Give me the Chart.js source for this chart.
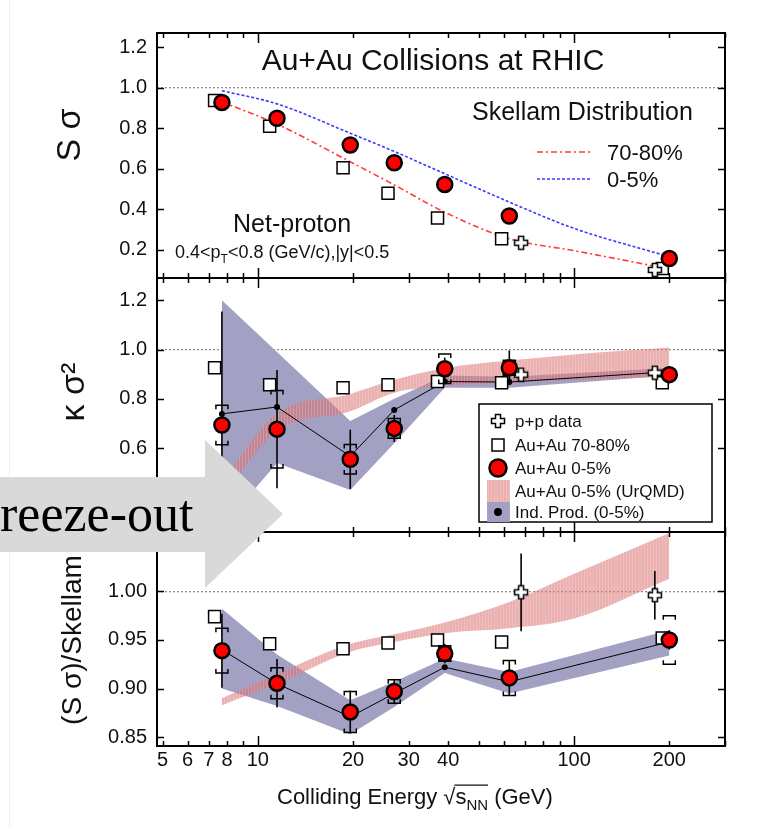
<!DOCTYPE html>
<html>
<head>
<meta charset="utf-8">
<script src="https://cdn.jsdelivr.net/npm/chart.js@4/dist/chart.umd.min.js"></script>
<style>
  body { margin: 0; background: #fff; width: 782px; height: 828px; overflow: hidden; position: relative; }
  canvas { position: absolute; left: 0; }
  #edge { position: absolute; left: 9px; top: 0; width: 1px; height: 828px; background: #f1f1f1; }
  #arrow {
    position: absolute; left: 0; top: 440px; width: 283px; height: 148px; background: #d9d9d9;
    clip-path: polygon(0 37px, 205px 37px, 205px 0, 283px 74px, 205px 148px, 205px 112px, 0 112px);
  }
  #arrow span {
    position: absolute; left: 0; top: 48px; font: 52px "Liberation Serif", "Times New Roman", serif;
    line-height: 52px; color: #000; white-space: nowrap;
  }
</style>
</head>
<body>
<div id="edge"></div>
<canvas id="pSkew" width="782" height="292" style="top:0"></canvas>
<canvas id="pKurt" width="782" height="282" style="top:264px"></canvas>
<canvas id="pRatio" width="782" height="310" style="top:518px"></canvas>
<div id="arrow"><span>reeze-out</span></div>

<script>
const family = '"Liberation Sans", Arial, sans-serif';
Chart.defaults.font.family = family;
Chart.defaults.color = '#111';

// beam energies (GeV); 70-80% and p+p points are shifted slightly in x for visibility
const energies = [7.7, 11.5, 19.6, 27, 39, 62.4, 200];
const energiesPeriph = [7.3, 10.9, 18.6, 25.8, 37, 59, 190];
const energiesPP = [68, 180];
const modelEnergies = [7.7, 11.5, 19.6, 27, 39, 62.4, 100, 200];

// x axis ticks
const xLabelTicks = [5, 6, 7, 8, 10, 20, 30, 40, 100, 200];
const xMarkTicks = [5, 6, 7, 8, 9, 10, 20, 30, 40, 50, 60, 70, 80, 90, 100, 200, 300];
const xDecades = [10, 100];

// top panel: S sigma
const sTicks = [0.2, 0.4, 0.6, 0.8, 1.0, 1.2];
const sCentral = [0.927, 0.849, 0.717, 0.629, 0.522, 0.366, 0.156];
const sPeriph = [0.937, 0.81, 0.605, 0.478, 0.356, 0.254, 0.107];
const sPP = [0.234, 0.10];
const skellamCentral = [0.985, 0.92, 0.775, 0.685, 0.575, 0.435, 0.305, 0.165];
const skellamPeriph = [0.93, 0.82, 0.634, 0.52, 0.385, 0.254, 0.195, 0.105];

// middle panel: kappa sigma^2
const kTicks = [0.6, 0.8, 1.0, 1.2];
const kCentral = [0.694, 0.677, 0.555, 0.68, 0.922, 0.926, 0.898];
const kCentralStat = [0.46, 0.24, 0.12, 0.055, 0.045, 0.07, 0.02];
const kCentralSys = [0.08, 0.157, 0.06, 0.04, 0.06, 0.03, 0.02];
const kPeriph = [0.926, 0.857, 0.845, 0.857, 0.87, 0.865, 0.865];
const kPP = [0.898, 0.906];
const kPPStat = [0.02, 0.02];
const kIndProd = [0.739, 0.767, 0.567, 0.755, 0.87, 0.868, 0.91];
const kIndLow = [0.28, 0.54, 0.43, 0.62, 0.845, 0.845, 0.895];
const kIndHigh = [1.2, 0.99, 0.71, 0.80, 0.895, 0.89, 0.925];
const kUrqmdLow = [0.40, 0.67, 0.75, 0.825, 0.852, 0.865, 0.876, 0.89];
const kUrqmdHigh = [0.47, 0.74, 0.82, 0.877, 0.925, 0.955, 0.98, 1.008];

// bottom panel: (S sigma)/Skellam
const rTicks = [0.85, 0.90, 0.95, 1.00];
const rCentral = [0.939, 0.9055, 0.876, 0.897, 0.936, 0.911, 0.95];
const rCentralStat = [0.038, 0.025, 0.022, 0.013, 0.01, 0.018, 0.01];
const rCentralSys = [0.023, 0.016, 0.021, 0.012, 0.008, 0.018, 0.025];
const rPeriph = [0.974, 0.946, 0.941, 0.947, 0.95, 0.948, 0.952];
const rPP = [0.999, 0.996];
const rPPStat = [0.04, 0.025];
const rIndProd = [0.94, 0.905, 0.871, 0.895, 0.922, 0.907, 0.948];
const rIndLow = [0.90, 0.882, 0.853, 0.881, 0.916, 0.895, 0.934];
const rIndHigh = [0.982, 0.935, 0.888, 0.907, 0.931, 0.917, 0.96];
const rUrqmdLow = [0.883, 0.905, 0.938, 0.948, 0.957, 0.962, 0.972, 1.013];
const rUrqmdHigh = [0.890, 0.915, 0.946, 0.956, 0.968, 0.989, 1.018, 1.06];

const RED = '#ff0000';
const PURPLE = '#a3a1c3';

const pts = (xs, ys) => xs.map((x, i) => ({ x: x, y: ys[i] }));

// open "plus" marker for p+p
function crossMarker(size) {
  const c = document.createElement('canvas');
  c.width = c.height = size + 3;
  const g = c.getContext('2d');
  const m = (size + 3) / 2, a = size / 2, w = size / 5.2;
  g.beginPath();
  g.moveTo(m - w, m - a); g.lineTo(m + w, m - a); g.lineTo(m + w, m - w); g.lineTo(m + a, m - w);
  g.lineTo(m + a, m + w); g.lineTo(m + w, m + w); g.lineTo(m + w, m + a); g.lineTo(m - w, m + a);
  g.lineTo(m - w, m + w); g.lineTo(m - a, m + w); g.lineTo(m - a, m - w); g.lineTo(m - w, m - w);
  g.closePath();
  g.fillStyle = '#fff'; g.fill();
  g.lineWidth = 1.5; g.strokeStyle = '#000'; g.stroke();
  return c;
}
const crossImg = crossMarker(13);

// striped pink fill for the UrQMD band
function stripes() {
  const c = document.createElement('canvas');
  c.width = 3; c.height = 2;
  const g = c.getContext('2d');
  g.fillStyle = 'rgba(218,112,112,0.55)'; g.fillRect(0, 0, 3, 2);
  g.fillStyle = 'rgba(255,255,255,0.18)'; g.fillRect(2, 0, 1, 2);
  return g.createPattern(c, 'repeat');
}
const pinkFill = stripes();

// ---- dataset helpers ----
function circles(xs, ys, stat, sys) {
  return { data: pts(xs, ys), showLine: false, pointStyle: 'circle', pointRadius: 7.5,
    pointBackgroundColor: RED, pointBorderColor: '#000', pointBorderWidth: 2.5, errStat: stat, errSys: sys };
}
function squares(xs, ys) {
  return { data: pts(xs, ys), showLine: false, pointStyle: 'rect', pointRadius: 8.5,
    pointBackgroundColor: '#fff', pointBorderColor: '#000', pointBorderWidth: 1.5 };
}
function crosses(xs, ys, stat) {
  return { data: pts(xs, ys), showLine: false, pointStyle: crossImg, errStat: stat };
}
function curve(xs, ys, color, dash) {
  return { data: pts(xs, ys), borderColor: color, borderDash: dash, borderWidth: 1.6,
    pointRadius: 0, fill: false, cubicInterpolationMode: 'monotone' };
}
function indLine(xs, ys) {
  return { data: pts(xs, ys), borderColor: '#000', borderWidth: 1, pointRadius: 3,
    pointBackgroundColor: '#000', pointBorderWidth: 0, fill: false };
}
function band(xs, lo, hi, color, smooth) {
  const mode = smooth ? 'monotone' : 'default';
  return [
    { data: pts(xs, hi), borderWidth: 0, pointRadius: 0, fill: '+1', backgroundColor: color, cubicInterpolationMode: mode },
    { data: pts(xs, lo), borderWidth: 0, pointRadius: 0, fill: false, cubicInterpolationMode: mode }
  ];
}

// ---- text helper (supports subscripts and an overbar for the sqrt) ----
function drawRuns(ctx, it) {
  const size = it.size;
  const runs = it.runs || [{ t: it.text }];
  const fontFor = r => `${r.sub ? Math.round(size * 0.68) : size}px ${it.family || family}`;
  let total = 0;
  runs.forEach(r => { ctx.font = fontFor(r); r.w = ctx.measureText(r.t).width; total += r.w; });
  ctx.save();
  ctx.fillStyle = '#111';
  ctx.translate(it.x, it.y);
  if (it.rotate) ctx.rotate(it.rotate);
  ctx.textBaseline = it.baseline || 'alphabetic';
  ctx.textAlign = 'left';
  let cx = it.align === 'center' ? -total / 2 : 0;
  let o0 = null, o1 = null;
  runs.forEach(r => {
    ctx.font = fontFor(r);
    ctx.fillText(r.t, cx, r.sub ? size * 0.28 : 0);
    if (r.over) { if (o0 === null) o0 = cx; o1 = cx + r.w; }
    cx += r.w;
  });
  if (o0 !== null) {
    ctx.strokeStyle = '#111'; ctx.lineWidth = 1.3;
    ctx.beginPath(); ctx.moveTo(o0 - 1, -size * 0.86); ctx.lineTo(o1, -size * 0.86); ctx.stroke();
  }
  ctx.restore();
}

// texts are given in page coordinates; canvasTop shifts them into the canvas
const textLayer = (items, canvasTop) => ({
  id: 'textLayer',
  afterDraw(chart) {
    const ctx = chart.ctx;
    ctx.save();
    ctx.translate(0, -canvasTop);
    items.forEach(it => drawRuns(ctx, it));
    ctx.restore();
  }
});

// error bars (stat = line, sys = brackets), drawn just before the marker dataset
const errorBars = {
  id: 'errorBars',
  beforeDatasetDraw(chart, args) {
    const ds = chart.data.datasets[args.index];
    if (!ds.errStat && !ds.errSys) return;
    const { ctx, chartArea: a, scales: { x, y } } = chart;
    ctx.save();
    ctx.beginPath(); ctx.rect(a.left, a.top, a.right - a.left, a.bottom - a.top); ctx.clip();
    ctx.strokeStyle = '#000';
    ds.data.forEach((p, i) => {
      const px = x.getPixelForValue(p.x);
      if (ds.errStat) {
        ctx.lineWidth = 1.6;
        ctx.beginPath();
        ctx.moveTo(px, y.getPixelForValue(p.y - ds.errStat[i]));
        ctx.lineTo(px, y.getPixelForValue(p.y + ds.errStat[i]));
        ctx.stroke();
      }
      if (ds.errSys) {
        const t = y.getPixelForValue(p.y + ds.errSys[i]);
        const b = y.getPixelForValue(p.y - ds.errSys[i]);
        ctx.lineWidth = 1.5;
        ctx.beginPath();
        ctx.moveTo(px - 6, t + 4); ctx.lineTo(px - 6, t); ctx.lineTo(px + 6, t); ctx.lineTo(px + 6, t + 4);
        ctx.moveTo(px - 6, b - 4); ctx.lineTo(px - 6, b); ctx.lineTo(px + 6, b); ctx.lineTo(px + 6, b - 4);
        ctx.stroke();
      }
    });
    ctx.restore();
  }
};

// box frame with inward tick marks on all four sides
const frame = {
  id: 'frame',
  afterDatasetsDraw(chart) {
    const { ctx, chartArea: a, scales: { x, y } } = chart;
    ctx.save();
    ctx.strokeStyle = '#000';
    ctx.lineWidth = 1.5;
    ctx.beginPath();
    xMarkTicks.forEach(v => {
      if (v < x.min || v > x.max) return;
      const px = Math.round(x.getPixelForValue(v)) + 0.5;
      const len = xDecades.includes(v) ? 10 : 5;
      ctx.moveTo(px, a.bottom); ctx.lineTo(px, a.bottom - len);
      ctx.moveTo(px, a.top); ctx.lineTo(px, a.top + len);
    });
    y.ticks.forEach(t => {
      const py = Math.round(y.getPixelForValue(t.value)) + 0.5;
      ctx.moveTo(a.left, py); ctx.lineTo(a.left + 7, py);
      ctx.moveTo(a.right, py); ctx.lineTo(a.right - 7, py);
    });
    ctx.stroke();
    ctx.lineWidth = 2;
    ctx.strokeRect(a.left, a.top, a.right - a.left, a.bottom - a.top);
    ctx.restore();
  }
};

function xAxis(show) {
  return {
    type: 'logarithmic', min: 4.8, max: 300, display: show,
    grid: { display: false, drawTicks: false }, border: { display: false },
    afterBuildTicks: s => { s.ticks = xLabelTicks.map(v => ({ value: v })); },
    afterFit: s => { if (show) s.height = 82; s.paddingLeft = 0; s.paddingRight = 0; },
    ticks: { font: { size: 20 }, color: '#111', padding: 2, autoSkip: false, maxRotation: 0,
      callback: v => String(v) }
  };
}
function yAxis(min, max, ticks, digits) {
  return {
    min: min, max: max,
    afterBuildTicks: s => { s.ticks = ticks.map(v => ({ value: v })); },
    afterFit: s => { s.width = 157; s.paddingTop = 0; s.paddingBottom = 0; },
    grid: { drawTicks: false, lineWidth: 1.3,
      color: c => (c.tick && Math.abs(c.tick.value - 1) < 1e-9) ? '#8c8c8c' : 'rgba(0,0,0,0)' },
    border: { display: false, dash: [2, 2] },
    ticks: { font: { size: 20 }, color: '#111', padding: 10, callback: v => Number(v).toFixed(digits) }
  };
}

function panel(id, o) {
  return new Chart(document.getElementById(id), {
    type: 'line',
    data: { datasets: o.datasets },
    options: {
      responsive: false, animation: false, events: [],
      layout: { padding: o.padding, autoPadding: false },
      plugins: { legend: { display: false }, tooltip: { enabled: false } },
      scales: { x: xAxis(o.showX), y: yAxis(o.yMin, o.yMax, o.yTicks, o.digits) }
    },
    plugins: [errorBars, frame, textLayer(o.texts, o.canvasTop)].concat(o.extra || [])
  });
}

// ---- top panel ----
const skellamLegend = {
  id: 'skellamLegend',
  afterDraw(chart) {
    const ctx = chart.ctx;
    const ds = chart.data.datasets;
    [[ds[4], 152], [ds[3], 179]].forEach(([d, yy]) => {
      ctx.save();
      ctx.strokeStyle = d.borderColor; ctx.lineWidth = d.borderWidth; ctx.setLineDash(d.borderDash);
      ctx.beginPath(); ctx.moveTo(537, yy); ctx.lineTo(592, yy); ctx.stroke();
      ctx.restore();
    });
  }
};

panel('pSkew', {
  canvasTop: 0,
  padding: { top: 33, right: 57, bottom: 14, left: 0 },
  showX: false, yMin: 0.06, yMax: 1.27, yTicks: sTicks, digits: 1,
  datasets: [
    circles(energies, sCentral),
    crosses(energiesPP, sPP),
    squares(energiesPeriph, sPeriph),
    curve(modelEnergies, skellamCentral, '#3b3bff', [3, 2]),
    curve(modelEnergies, skellamPeriph, '#ff3c3c', [6, 3, 2, 3])
  ],
  texts: [
    { text: 'Au+Au Collisions at RHIC', x: 433, y: 70, size: 30, align: 'center' },
    { text: 'Skellam Distribution', x: 472, y: 120, size: 25 },
    { text: '70-80%', x: 607, y: 160, size: 22 },
    { text: '0-5%', x: 607, y: 187, size: 22 },
    { text: 'Net-proton', x: 233, y: 232, size: 25 },
    { runs: [{ t: '0.4<p' }, { t: 'T', sub: true }, { t: '<0.8 (GeV/c),|y|<0.5' }], x: 175, y: 258, size: 18 },
    { text: 'S σ', x: 71, y: 135, size: 34, rotate: -Math.PI / 2, align: 'center', baseline: 'middle' }
  ],
  extra: [skellamLegend]
});

// ---- middle panel ----
const KURT_TOP = 264;
const mainLegend = {
  id: 'mainLegend',
  afterDraw(chart) {
    const ctx = chart.ctx;
    ctx.save();
    ctx.translate(0, -KURT_TOP);
    ctx.fillStyle = '#fff';
    ctx.fillRect(479, 404, 233, 118);
    ctx.strokeStyle = '#000'; ctx.lineWidth = 1.5;
    ctx.strokeRect(479, 404, 233, 118);
    // p+p
    ctx.drawImage(crossImg, 498 - crossImg.width / 2, 421 - crossImg.height / 2);
    // 70-80%
    ctx.fillStyle = '#fff'; ctx.fillRect(492, 439, 12, 12);
    ctx.lineWidth = 1.5; ctx.strokeRect(492, 439, 12, 12);
    // 0-5%
    ctx.beginPath(); ctx.arc(498, 468, 8.5, 0, Math.PI * 2);
    ctx.fillStyle = RED; ctx.fill(); ctx.lineWidth = 2.5; ctx.stroke();
    // UrQMD
    ctx.fillStyle = pinkFill; ctx.fillRect(487, 480, 23, 22);
    // Ind. Prod.
    ctx.fillStyle = PURPLE; ctx.fillRect(487, 502, 23, 20);
    ctx.beginPath(); ctx.arc(498, 512, 4, 0, Math.PI * 2); ctx.fillStyle = '#000'; ctx.fill();
    [['p+p data', 427], ['Au+Au 70-80%', 451], ['Au+Au 0-5%', 474], ['Au+Au 0-5% (UrQMD)', 497], ['Ind. Prod. (0-5%)', 518]]
      .forEach(([t, yy]) => drawRuns(ctx, { text: t, x: 515, y: yy, size: 17 }));
    ctx.restore();
  }
};

panel('pKurt', {
  canvasTop: KURT_TOP,
  padding: { top: 14, right: 57, bottom: 14, left: 0 },
  showX: false, yMin: 0.26, yMax: 1.29, yTicks: kTicks, digits: 1,
  datasets: [
    circles(energies, kCentral, kCentralStat, kCentralSys),
    crosses(energiesPP, kPP, kPPStat),
    squares(energiesPeriph, kPeriph),
    indLine(energies, kIndProd),
    ...band(modelEnergies, kUrqmdLow, kUrqmdHigh, pinkFill, true),
    ...band(energies, kIndLow, kIndHigh, PURPLE, false)
  ],
  texts: [
    { text: 'κ σ²', x: 75, y: 392, size: 34, rotate: -Math.PI / 2, align: 'center', baseline: 'middle' }
  ],
  extra: [mainLegend]
});

// ---- bottom panel ----
panel('pRatio', {
  canvasTop: 518,
  padding: { top: 14, right: 57, bottom: 0, left: 0 },
  showX: true, yMin: 0.841, yMax: 1.061, yTicks: rTicks, digits: 2,
  datasets: [
    circles(energies, rCentral, rCentralStat, rCentralSys),
    crosses(energiesPP, rPP, rPPStat),
    squares(energiesPeriph, rPeriph),
    indLine(energies, rIndProd),
    ...band(modelEnergies, rUrqmdLow, rUrqmdHigh, pinkFill, true),
    ...band(energies, rIndLow, rIndHigh, PURPLE, false)
  ],
  texts: [
    { text: '(S σ)/Skellam', x: 73, y: 640, size: 28, rotate: -Math.PI / 2, align: 'center', baseline: 'middle' },
    { runs: [{ t: 'Colliding Energy ' }, { t: '√' }, { t: 's', over: true }, { t: 'NN', sub: true, over: true }, { t: ' (GeV)' }],
      x: 277, y: 804, size: 22 }
  ]
});
</script>
</body>
</html>
